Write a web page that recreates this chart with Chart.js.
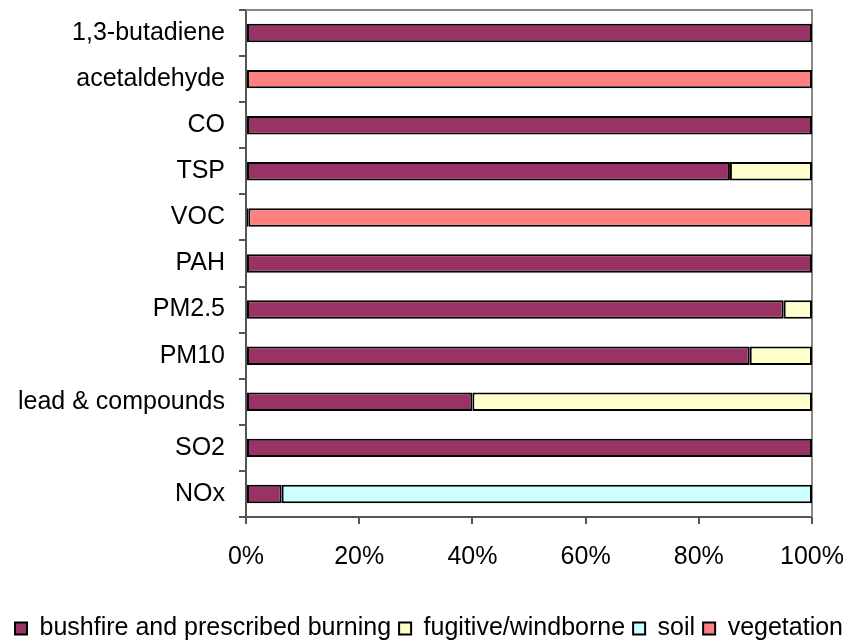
<!DOCTYPE html>
<html>
<head>
<meta charset="utf-8">
<script src="https://cdn.jsdelivr.net/npm/chart.js@4/dist/chart.umd.min.js"></script>
<style>
html,body{margin:0;padding:0;background:#fff;}
#wrap{width:858px;height:642px;position:relative;}
</style>
</head>
<body>
<div id="wrap"><canvas id="c" width="858" height="642"></canvas></div>
<script>
const categories = ["1,3-butadiene","acetaldehyde","CO","TSP","VOC","PAH","PM2.5","PM10","lead & compounds","SO2","NOx"];
const bushfire   = [100, 0, 100, 85.5, 0.4, 100, 95, 89, 40, 100, 6.3];
const fugitive   = [0, 0, 0, 14.5, 0, 0, 5, 11, 60, 0, 0];
const soil       = [0, 0, 0, 0, 0, 0, 0, 0, 0, 0, 93.7];
const vegetation = [0, 100, 0, 0, 99.6, 0, 0, 0, 0, 0, 0];
const seriesNames = ["bushfire and prescribed burning","fugitive/windborne","soil","vegetation"];
const xTicks = [0,20,40,60,80,100];

const FONT = "'Liberation Sans', Arial, sans-serif";
const FS = 25;

const plotBorder = {
  id: 'plotBorder',
  beforeDatasetsDraw(chart) {
    const a = chart.chartArea, ctx = chart.ctx;
    ctx.save();
    ctx.strokeStyle = '#888888';
    ctx.lineWidth = 2;
    ctx.beginPath();
    ctx.moveTo(a.left, a.top);
    ctx.lineTo(a.right, a.top);
    ctx.lineTo(a.right, a.bottom);
    ctx.stroke();
    ctx.restore();
  }
};

const mk = (label, data, color) => ({
  label, data, backgroundColor: color, borderColor: '#000000', borderWidth: 2,
  borderSkipped: false, barPercentage: 0.4, categoryPercentage: 1.0
});

new Chart(document.getElementById('c'), {
  type: 'bar',
  data: {
    labels: categories,
    datasets: [
      mk(seriesNames[0], bushfire, '#993366'),
      mk(seriesNames[1], fugitive, '#FFFFCC'),
      mk(seriesNames[2], soil, '#CCFFFF'),
      mk(seriesNames[3], vegetation, '#FF8080')
    ]
  },
  options: {
    indexAxis: 'y',
    responsive: false,
    animation: false,
    layout: { padding: { left: 0, right: 0, top: 10, bottom: -9 } },
    plugins: {
      legend: {
        position: 'bottom',
        labels: {
          font: { family: FONT, size: FS },
          color: '#000',
          boxWidth: 12, boxHeight: 12, padding: 8
        }
      },
      tooltip: { enabled: false }
    },
    scales: {
      x: {
        stacked: true, min: 0, max: 100,
        afterBuildTicks(s) { s.ticks = xTicks.map(v => ({ value: v })); },
        afterFit(s) { s.height = 91; s.paddingLeft = 0; s.paddingRight = 46; },
        ticks: { callback: v => v + '%', font: { family: FONT, size: FS }, color: '#000', padding: 18, maxRotation: 0 },
        grid: { drawOnChartArea: false, tickLength: 7, color: '#555', lineWidth: 2 },
        border: { color: '#555', width: 2 }
      },
      y: {
        stacked: true,
        afterFit(s) { s.width = 246; s.paddingTop = 0; s.paddingBottom = 0; },
        ticks: { font: { family: FONT, size: FS }, color: '#000', padding: 14 },
        grid: { drawOnChartArea: false, offset: true, tickLength: 7, color: '#555', lineWidth: 2 },
        border: { color: '#555', width: 2 }
      }
    }
  },
  plugins: [plotBorder]
});
</script>
</body>
</html>
